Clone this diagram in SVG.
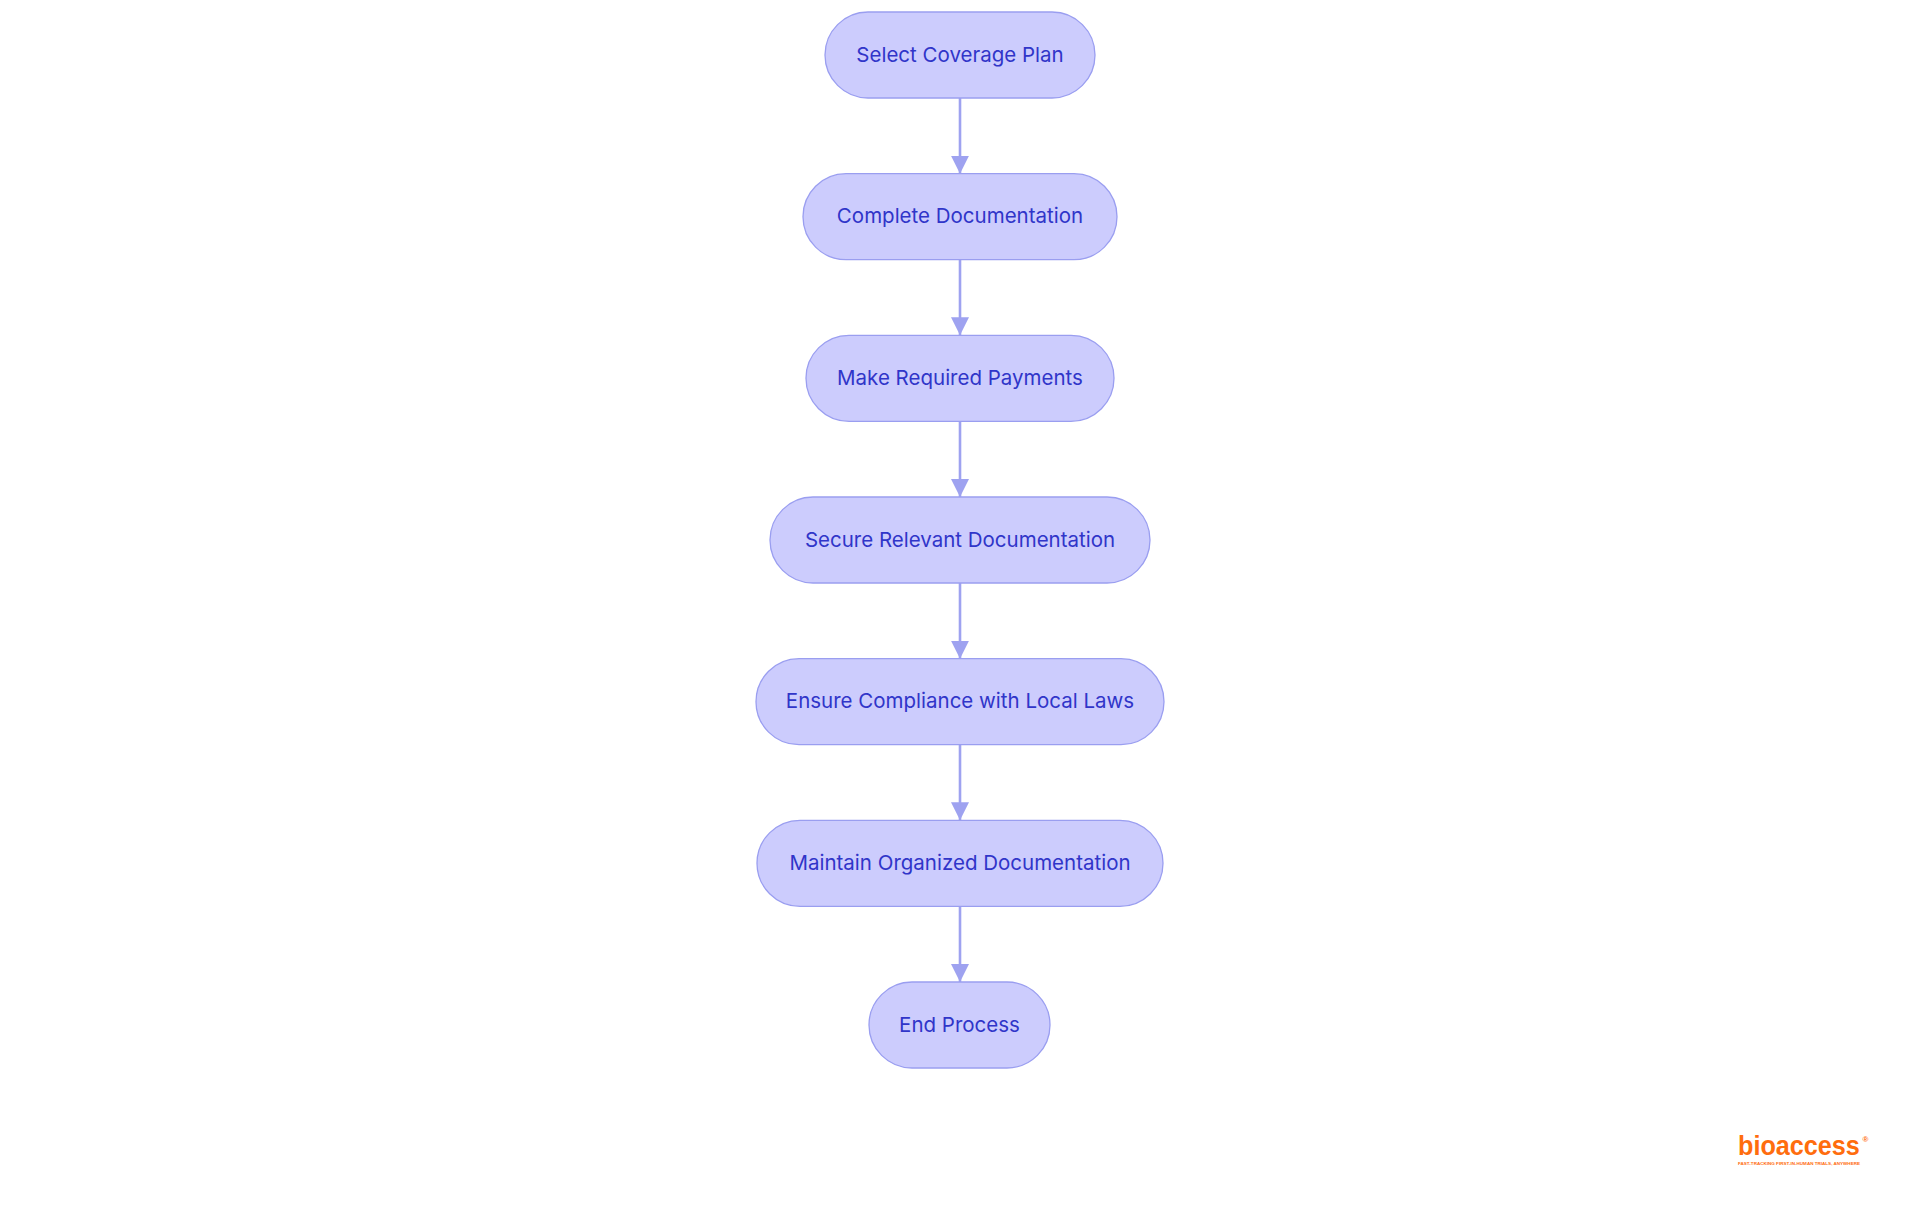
<svg xmlns="http://www.w3.org/2000/svg" width="1920" height="1215" viewBox="0 0 1920 1215">
<defs>
<style>
.node rect{fill:#ccccfd;stroke:#9a9ef0;stroke-width:1.3}
.node text{font-family:Inter,"Noto Sans","Liberation Sans",sans-serif;font-size:20.5px;fill:#3035c9;text-anchor:middle}
.edge{stroke:#9ea2f0;stroke-width:2.6;fill:none}
.logo{font-family:"Liberation Sans",Inter,sans-serif;fill:#ff6d0e;font-weight:bold}
</style>
<marker id="arrow" viewBox="0 0 10 10" refX="10" refY="5" markerUnits="userSpaceOnUse" markerWidth="18" markerHeight="18" orient="auto">
<path d="M0,0 L10,5 L0,10 z" fill="#9ea2f0"/>
</marker>
</defs>
<rect width="1920" height="1215" fill="#ffffff"/>
<g id="connectors">
<line class="edge" x1="960" y1="98" x2="960" y2="173.7" marker-end="url(#arrow)"/>
<line class="edge" x1="960" y1="259.7" x2="960" y2="335.3" marker-end="url(#arrow)"/>
<line class="edge" x1="960" y1="421.3" x2="960" y2="497" marker-end="url(#arrow)"/>
<line class="edge" x1="960" y1="583" x2="960" y2="658.7" marker-end="url(#arrow)"/>
<line class="edge" x1="960" y1="744.7" x2="960" y2="820.3" marker-end="url(#arrow)"/>
<line class="edge" x1="960" y1="906.3" x2="960" y2="982" marker-end="url(#arrow)"/>
</g>
<g id="node-select" class="node">
<rect x="825" y="12" width="270" height="86" rx="43" ry="43"/>
<text x="960" y="61.5">Select Coverage Plan</text>
</g>
<g id="node-complete" class="node">
<rect x="803" y="173.7" width="314" height="86" rx="43" ry="43"/>
<text x="960" y="223.2">Complete Documentation</text>
</g>
<g id="node-payments" class="node">
<rect x="806" y="335.3" width="308" height="86" rx="43" ry="43"/>
<text x="960" y="384.8">Make Required Payments</text>
</g>
<g id="node-secure" class="node">
<rect x="770" y="497" width="380" height="86" rx="43" ry="43"/>
<text x="960" y="546.5">Secure Relevant Documentation</text>
</g>
<g id="node-ensure" class="node">
<rect x="756" y="658.7" width="408" height="86" rx="43" ry="43"/>
<text x="960" y="708.2">Ensure Compliance with Local Laws</text>
</g>
<g id="node-maintain" class="node">
<rect x="757" y="820.3" width="406" height="86" rx="43" ry="43"/>
<text x="960" y="869.8">Maintain Organized Documentation</text>
</g>
<g id="node-end" class="node">
<rect x="869" y="982" width="181" height="86" rx="43" ry="43"/>
<text x="959.5" y="1031.5">End Process</text>
</g>
<g id="logo">
<text class="logo" transform="translate(1738,1154.5) scale(0.9,1)" x="0" y="0" font-size="28">bioaccess</text>
<text class="logo" x="1862.5" y="1142" font-size="8">®</text>
<text class="logo" x="1738" y="1164.5" font-size="3.6" textLength="122" lengthAdjust="spacingAndGlyphs">FAST-TRACKING FIRST-IN-HUMAN TRIALS, ANYWHERE</text>
</g>
</svg>
